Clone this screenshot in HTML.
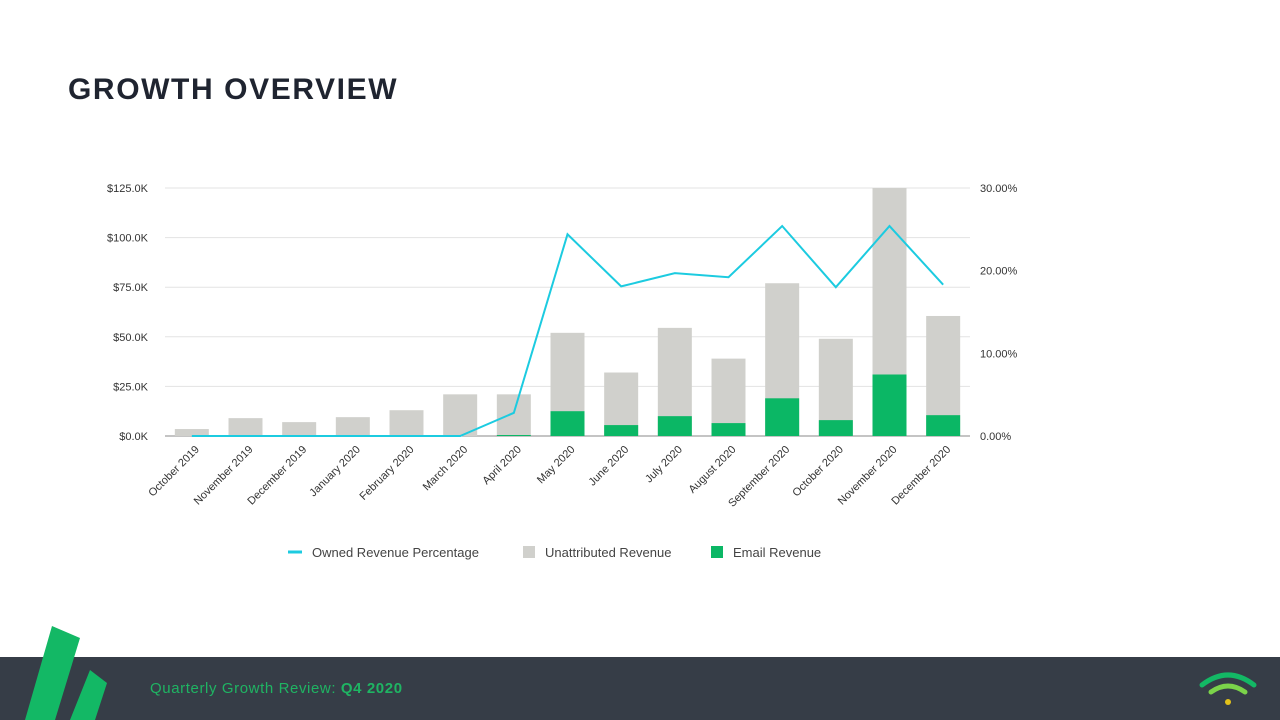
<!DOCTYPE html>
<html><head><meta charset="utf-8"><style>
body{margin:0;width:1280px;height:720px;background:#fff;font-family:"Liberation Sans",sans-serif;overflow:hidden;position:relative}
h1{position:absolute;left:68px;top:73px;margin:0;font-size:30px;font-weight:bold;color:#1f2430;letter-spacing:1.6px}
#footer{position:absolute;left:0;top:657px;width:1280px;height:63px;background:#363d47}
#ft{position:absolute;left:150px;top:680px;font-size:15px;color:#1fb463;letter-spacing:0.6px}
</style></head><body>
<h1>GROWTH OVERVIEW</h1>
<div id="footer"></div>
<div id="ft">Quarterly Growth Review: <b>Q4 2020</b></div>
<svg width="1280" height="720" style="position:absolute;left:0;top:0">
<g id="chart"></g>
<polygon points="52,626 80,638 55,720 25,720" fill="#13b865"/>
<polygon points="90,670 107,683 95,720 70,720" fill="#13b865"/>
<g fill="none" stroke-linecap="round">
<path d="M1202,685 Q1228,665 1254,685" stroke="#13b865" stroke-width="5"/>
<path d="M1211,692 Q1228,680 1245,692" stroke="#7bd34a" stroke-width="5"/>
<circle cx="1228" cy="702" r="3" fill="#e3c21a" stroke="none"/>
</g>
</svg>
<script>
const categories=["October 2019","November 2019","December 2019","January 2020","February 2020","March 2020","April 2020","May 2020","June 2020","July 2020","August 2020","September 2020","October 2020","November 2020","December 2020"];
const totalRevenue=[3.5,9,7,9.5,13,21,21,52,32,54.5,39,77,49,125,60.5];
const emailRevenue=[0,0,0,0,0,0,0.5,12.5,5.5,10,6.5,19,8,31,10.5];
const ownedPct=[0,0,0,0,0,0,2.8,24.4,18.1,19.7,19.2,25.4,18,25.4,18.3];
const leftTicks=["$0.0K","$25.0K","$50.0K","$75.0K","$100.0K","$125.0K"];
const leftTickValues=[0,25,50,75,100,125];
const rightTicks=["0.00%","10.00%","20.00%","30.00%"];
const rightTickValues=[0,10,20,30];

const NS="http://www.w3.org/2000/svg";
const g=document.getElementById('chart');
const x0=165,x1=970,yB=436,yT=188;
const step=(x1-x0)/categories.length;
const xc=i=>x0+step*(i+0.5);
const yL=v=>yB-(v/125)*(yB-yT);
const yR=v=>yB-(v/30)*(yB-yT);
function mk(t,a){const e=document.createElementNS(NS,t);for(const k in a)e.setAttribute(k,a[k]);g.appendChild(e);return e;}
leftTickValues.forEach((v,i)=>{
 const l=mk('line',{x1:x0,x2:x1,y1:yL(v),y2:yL(v),stroke:i?'#e3e3e3':'#888','stroke-width':1});
 
 
 const t=mk('text',{x:148,y:yL(v)+4,'text-anchor':'end','font-size':11,fill:'#333'});
 t.textContent=leftTicks[i];
 
 
});
rightTickValues.forEach((v,i)=>{
 const t=mk('text',{x:980,y:yR(v)+4,'font-size':11,fill:'#333'});
 t.textContent=rightTicks[i];
 
 
});
const bw=34;
categories.forEach((c,i)=>{
 const x=xc(i)-bw/2;
 const r=mk('rect',{x:x,y:yL(totalRevenue[i]),width:bw,height:yL(0)-yL(totalRevenue[i]),fill:'#d0d0cc'});
 
 
 if(emailRevenue[i]>0){
  const e=mk('rect',{x:x,y:yL(emailRevenue[i]),width:bw,height:yL(0)-yL(emailRevenue[i]),fill:'#0bb765'});
  
  
 }
 const t=mk('text',{x:xc(i)+8,y:450,'text-anchor':'end','font-size':11,fill:'#333',transform:`rotate(-45 ${xc(i)+8} 450)`});
 t.textContent=c;
 
 
});
const pl=mk('polyline',{points:ownedPct.map((v,i)=>xc(i)+','+yR(v)).join(' '),fill:'none',stroke:'#1ccbe0','stroke-width':2});


const leg=[["line","#1ccbe0","Owned Revenue Percentage",288],["box","#d0d0cc","Unattributed Revenue",523],["box","#0bb765","Email Revenue",711]];
leg.forEach(L=>{
 if(L[0]=="line"){const m=mk('line',{x1:L[3],x2:L[3]+14,y1:552,y2:552,stroke:L[1],'stroke-width':3});}
 else{const m=mk('rect',{x:L[3],y:546,width:12,height:12,fill:L[1]});}
 const t=mk('text',{x:L[3]+(L[0]=="line"?24:22),y:557,'font-size':13,fill:'#444'});
 t.textContent=L[2];
 
 
});
</script>
</body></html>
